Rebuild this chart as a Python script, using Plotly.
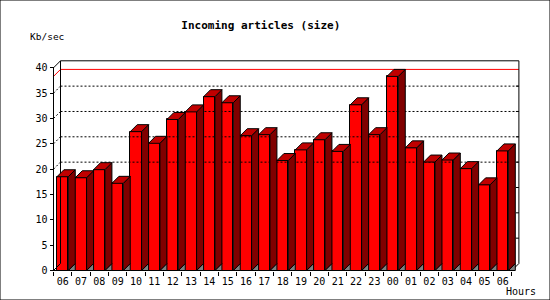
import plotly.graph_objects as go

# ---- data ----
hours = ["06", "07", "08", "09", "10", "11", "12", "13", "14", "15", "16", "17", "18",
         "19", "20", "21", "22", "23", "00", "01", "02", "03", "04", "05", "06"]
kbps = [18.5, 18.3, 19.9, 17.2, 27.4, 25.1, 29.8, 31.3, 34.3, 33.1, 26.6, 26.8, 21.7,
        23.8, 25.8, 23.5, 32.7, 26.8, 38.3, 24.2, 21.4, 21.8, 20.1, 16.9, 23.6]
y_ticks = [0, 5, 10, 15, 20, 25, 30, 35, 40]
grid_levels = [20, 25, 30, 35]
title = "Incoming articles (size)"
y_title = "Kb/sec"
x_title = "Hours"

# ---- geometry (pixels -> data units) ----
W_PX, H_PX = 550, 300
PX_X = 18.336          # pixels per category
PX_Y = 5.0675          # pixels per Kb/sec
X0_PX = 53.5           # pixel of x=0
Y0_PX = 270.5          # pixel (from top) of y=0
DEPTH = 7              # 3d depth in pixels
DX = DEPTH / PX_X
DY = DEPTH / PX_Y
OFF = 3.4 / PX_X
BW = 1 - DX            # front width so that bars touch
N = len(hours)
YMAX = y_ticks[-1]

xr = [-X0_PX / PX_X, (W_PX - X0_PX) / PX_X]
yr = [-(H_PX - Y0_PX) / PX_Y, Y0_PX / PX_Y]

fig = go.Figure()

def segs(pairs):
    xs, ys = [], []
    for (x0, y0), (x1, y1) in pairs:
        xs += [x0, x1, None]
        ys += [y0, y1, None]
    return xs, ys

# grid (dotted) on back wall and left wall
gp = []
for v in grid_levels:
    gp.append(((0, v), (DX, v + DY)))
    gp.append(((DX, v + DY), (N + DX, v + DY)))
gx, gy = segs(gp)
fig.add_trace(go.Scatter(x=gx, y=gy, mode="lines",
                         line=dict(color="black", width=1, dash="2px,2px"),
                         hoverinfo="skip", showlegend=False))

# max line (red)
mx = max(kbps)
fig.add_trace(go.Scatter(x=[0, DX, N + DX], y=[mx, mx + DY, mx + DY], mode="lines",
                         line=dict(color="#ff0000", width=1), hoverinfo="skip", showlegend=False))

# frame
fp = [((0, 0), (0, YMAX)), ((0, YMAX), (DX, YMAX + DY)), ((DX, YMAX + DY), (N + DX, YMAX + DY)),
      ((N + DX, YMAX + DY), (N + DX, DY)), ((DX, DY), (DX, YMAX + DY)),
      ((0, 0), (N, 0)), ((N, 0), (N + DX, DY)), ((0, 0), (DX, DY))]
for v in y_ticks[1:-1]:
    fp.append(((N + DX - 3 / PX_X, v + DY), (N + DX, v + DY)))
fx, fy = segs(fp)
fig.add_trace(go.Scatter(x=fx, y=fy, mode="lines", line=dict(color="black", width=1),
                         hoverinfo="skip", showlegend=False))

# floor triangles (grey) under side faces
tx, ty = [], []
for i in range(N):
    xr_ = i + OFF + BW
    tx += [xr_, xr_ + DX, xr_ + DX, xr_, None]
    ty += [0, DY, 0, 0, None]
fig.add_trace(go.Scatter(x=tx, y=ty, mode="lines", fill="toself", fillcolor="#808080",
                         line=dict(color="black", width=1), hoverinfo="skip", showlegend=False))

# front faces
fig.add_trace(go.Bar(x=[i + OFF + BW / 2 for i in range(N)], y=kbps, width=BW, base=0,
                     marker=dict(color="#ff0000", line=dict(color="black", width=1)),
                     hoverinfo="skip", showlegend=False))

# side faces
sx, sy = [], []
for i, v in enumerate(kbps):
    xr_ = i + OFF + BW
    sx += [xr_, xr_ + DX, xr_ + DX, xr_, xr_, None]
    sy += [0, DY, v + DY, v, 0, None]
fig.add_trace(go.Scatter(x=sx, y=sy, mode="lines", fill="toself", fillcolor="#800000",
                         line=dict(color="black", width=1), hoverinfo="skip", showlegend=False))

# top faces
ux, uy = [], []
for i, v in enumerate(kbps):
    xl = i + OFF
    ux += [xl, xl + BW, xl + BW + DX, xl + DX, xl, None]
    uy += [v, v, v + DY, v + DY, v, None]
fig.add_trace(go.Scatter(x=ux, y=uy, mode="lines", fill="toself", fillcolor="#c00000",
                         line=dict(color="black", width=1), hoverinfo="skip", showlegend=False))

# invisible trace so the boundary-tick axis is drawn
fig.add_trace(go.Scatter(x=[0], y=[0], mode="markers", marker=dict(opacity=0),
                         xaxis="x2", hoverinfo="skip", showlegend=False))

tick_font = dict(family="DejaVu Sans Mono", size=10, color="black")

fig.update_layout(
    width=W_PX, height=H_PX, margin=dict(l=0, r=0, t=0, b=0, pad=0),
    paper_bgcolor="white", plot_bgcolor="white", hovermode=False, showlegend=False,
    bargap=0,
    title=dict(text="<b>" + title + "</b>", x=260.8 / W_PX, y=1 - 25.5 / H_PX,
               xanchor="center", yanchor="middle",
               font=dict(family="DejaVu Sans Mono", size=11, color="black")),
    xaxis=dict(domain=[0, 1], range=xr, anchor="free", position=(H_PX - Y0_PX) / H_PX,
               showgrid=False, zeroline=False, showline=False,
               tickmode="array", tickvals=[i + 0.5 for i in range(N)], ticktext=hours,
               ticks="", ticklabelstandoff=3, tickfont=tick_font, automargin=False),
    xaxis2=dict(domain=[0, 1], range=xr, overlaying="x", anchor="free",
                position=(H_PX - Y0_PX) / H_PX, side="bottom",
                showgrid=False, zeroline=False, showline=False,
                tickmode="array", tickvals=list(range(N + 1)), ticks="outside",
                ticklen=4, tickcolor="black", tickwidth=1, showticklabels=False,
                automargin=False),
    yaxis=dict(domain=[0, 1], range=yr, anchor="free", position=X0_PX / W_PX,
               showgrid=False, zeroline=False, showline=False,
               tickmode="array", tickvals=y_ticks, ticks="outside", ticklen=4,
               tickcolor="black", tickwidth=1, tickfont=tick_font, automargin=False),
    annotations=[
        dict(text=y_title, x=28 / W_PX, y=1 - 36.7 / H_PX, xref="paper", yref="paper",
             xanchor="left", yanchor="middle", showarrow=False,
             font=dict(family="DejaVu Sans Mono", size=9.5, color="black")),
        dict(text=x_title, x=504 / W_PX, y=1 - 291.7 / H_PX, xref="paper", yref="paper",
             xanchor="left", yanchor="middle", showarrow=False,
             font=dict(family="DejaVu Sans Mono", size=10, color="black")),
    ],
    shapes=[dict(type="rect", xref="paper", yref="paper", x0=0, y0=0, x1=1, y1=1,
                 line=dict(color="black", width=1), fillcolor="rgba(0,0,0,0)")],
)

fig.write_html("out.html")
